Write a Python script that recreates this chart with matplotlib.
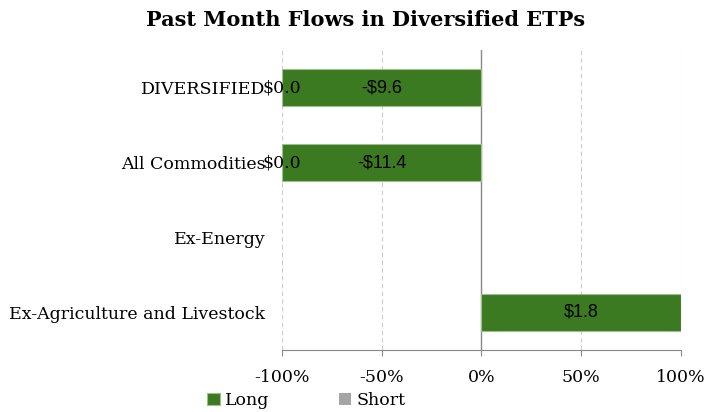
import matplotlib.pyplot as plt
import numpy as np

categories = ["DIVERSIFIED", "All Commodities", "Ex-Energy", "Ex-Agriculture and Livestock"]
long_pct = [-100, -100, 0, 100]
short_pct = [0, 0, 0, 0]
long_labels = ["-$9.6", "-$11.4", None, "$1.8"]
short_labels = ["$0.0", "$0.0", None, None]
ticks = [-100, -50, 0, 50, 100]

green = "#3C7A22"
gray = "#A5A5A5"
serif = "DejaVu Serif"

fig = plt.figure(figsize=(7.24, 4.12), dpi=100)
ax = fig.add_axes([0.3895, 0.1505, 0.5511, 0.7281])

y = np.arange(len(categories))
edges = ["#9DBF8C" if v != 0 else "none" for v in long_pct]
ax.barh(y, long_pct, height=0.5, color=green, edgecolor=edges, linewidth=0.8, label="Long")
# short sits to the left of long (stacked)
short_left = [min(v, 0) for v in long_pct]
ax.barh(y, short_pct, left=short_left, height=0.5, color=gray, linewidth=0, label="Short")

for i, lab in enumerate(long_labels):
    if lab:
        ax.text(long_pct[i] / 2, y[i], lab, ha="center", va="center",
                fontsize=13, family="Liberation Sans", color="black")
for i, lab in enumerate(short_labels):
    if lab:
        ax.text(short_left[i], y[i], lab, ha="center", va="center",
                fontsize=12.5, family=serif, color="black")

ax.set_xlim(-100, 100)
ax.set_ylim(len(categories) - 0.5, -0.5)
ax.set_xticks(ticks)
ax.set_xticklabels([f"{t}%" for t in ticks], family=serif, fontsize=12.5)
ax.set_yticks(y)
ax.set_yticklabels(categories, family=serif, fontsize=12.5)
ax.tick_params(axis="y", length=0, pad=12)
ax.tick_params(axis="x", length=4, color="#888888", pad=10)

for t in ticks:
    if t == 0:
        ax.axvline(0, color="#888888", linewidth=1, zorder=0.5)
    else:
        ax.axvline(t, color="#CCCCCC", linewidth=0.8, linestyle=(0, (4, 3)), zorder=0.5)

for s in ["top", "right", "left"]:
    ax.spines[s].set_visible(False)
ax.spines["bottom"].set_color("#888888")

fig.suptitle("Past Month Flows in Diversified ETPs", x=0.505, y=0.975,
             fontsize=15, fontweight="bold", family=serif)

fig.legend(loc="lower left", bbox_to_anchor=(0.265, -0.03), ncol=2, frameon=False,
           handlelength=0.7, handleheight=0.7, handletextpad=0.3, columnspacing=4.0,
           prop={"family": serif, "size": 12.5})

fig.savefig("out.png", dpi=100)
